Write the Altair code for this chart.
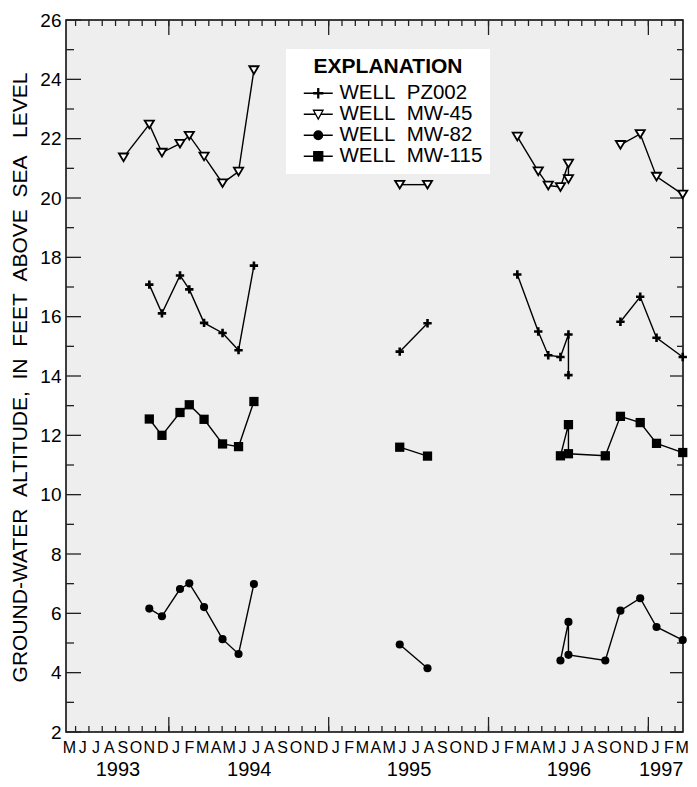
import calendar
import altair as alt
import pandas as pd

wells = ["PZ002", "MW-45", "MW-82", "MW-115"]

# ---- data ----
pz_dates = ["1993-11-17", "1993-12-16", "1994-01-27", "1994-02-16", "1994-03-21", "1994-05-02", "1994-06-08", "1994-07-13",
            "1995-06-11", "1995-08-14",
            "1996-03-06", "1996-04-23", "1996-05-16", "1996-06-13", "1996-07-01", "1996-07-01",
            "1996-10-29", "1996-12-13", "1997-01-20", "1997-03-19"]
pz_vals = [17.08, 16.11, 17.39, 16.92, 15.79, 15.45, 14.87, 17.72,
           14.82, 15.78,
           17.42, 15.50, 14.70, 14.64, 15.40, 14.03,
           15.83, 16.67, 15.29, 14.64]
pz_seg = [1] * 8 + [2] * 2 + [3] * 6 + [4] * 4

mw45_dates = ["1993-09-19", "1993-11-17", "1993-12-16", "1994-01-27", "1994-02-16", "1994-03-21", "1994-05-02", "1994-06-08", "1994-07-13",
              "1995-06-11", "1995-08-14",
              "1996-03-06", "1996-04-23", "1996-05-16", "1996-06-13", "1996-07-01", "1996-07-01",
              "1996-10-29", "1996-12-13", "1997-01-20", "1997-03-19"]
mw45_vals = [21.37, 22.48, 21.53, 21.83, 22.10, 21.40, 20.50, 20.89, 24.31,
             20.45, 20.45,
             22.07, 20.90, 20.42, 20.37, 21.16, 20.64,
             21.79, 22.16, 20.72, 20.12]
mw45_seg = [1] * 9 + [2] * 2 + [3] * 6 + [4] * 4

mw82_dates = ["1993-11-17", "1993-12-16", "1994-01-27", "1994-02-16", "1994-03-21", "1994-05-02", "1994-06-08", "1994-07-13",
              "1995-06-11", "1995-08-14",
              "1996-06-13", "1996-07-01", "1996-07-01", "1996-09-24", "1996-10-29", "1996-12-13", "1997-01-20", "1997-03-19"]
mw82_vals = [6.16, 5.90, 6.82, 7.01, 6.21, 5.13, 4.63, 6.99,
             4.95, 4.15,
             4.41, 5.71, 4.60, 4.41, 6.09, 6.51, 5.54, 5.10]
mw82_seg = [1] * 8 + [2] * 2 + [3] * 8

mw115_dates = mw82_dates
mw115_vals = [12.55, 12.00, 12.77, 13.03, 12.54, 11.71, 11.62, 13.14,
              11.60, 11.30,
              11.31, 12.36, 11.38, 11.31, 12.64, 12.43, 11.73, 11.42]
mw115_seg = mw82_seg

month_letters = "JFMAMJJASOND"
x_domain = [4.28, 50.6]      # months since Jan 1993 (mid-May 1993 .. mid-March 1997)
y_domain = [2, 26]
y_title = "\u00a0\u00a0".join(["GROUND-WATER", "ALTITUDE,", "IN", "FEET", "ABOVE", "SEA"]) + "\u00a0\u00a0\u00a0LEVEL"

month_bounds = list(range(5, 51))      # tick at start of each month
year_bounds = [12, 24, 36, 48]         # tick at start of each year
y_major = list(range(2, 27, 2))
y_minor = list(range(3, 26, 2))


def month_index(s):
    y, mo, d = (int(v) for v in s.split("-"))
    return (y - 1993) * 12 + (mo - 1) + (d - 1) / calendar.monthrange(y, mo)[1]


rows = []
for well, dates, vals, segs in [("PZ002", pz_dates, pz_vals, pz_seg),
                                ("MW-45", mw45_dates, mw45_vals, mw45_seg),
                                ("MW-82", mw82_dates, mw82_vals, mw82_seg),
                                ("MW-115", mw115_dates, mw115_vals, mw115_seg)]:
    for i, (dt, v, sg) in enumerate(zip(dates, vals, segs)):
        rows.append({"well": well, "m": month_index(dt), "value": v,
                     "grp": f"{well}-{sg}", "idx": i})
df = pd.DataFrame(rows)

W, H = 617, 712
FONT = "Liberation Sans"
TICK = dict(stroke="#222222", strokeWidth=1.3, opacity=1)

xscale = alt.Scale(domain=x_domain, nice=False, zero=False)
yscale = alt.Scale(domain=y_domain, nice=False, zero=False)

month_centers = [m + 0.5 for m in range(4, 51)]
year_centers = []
for k in range(0, 5):
    lo, hi = max(12 * k, x_domain[0]), min(12 * (k + 1), x_domain[1])
    year_centers.append((lo + hi) / 2)
year_centers[-1] = x_domain[1]   # last (partial) year label flush with the right edge

common = dict(grid=False, domain=False, title=None)

ax_month_labels = alt.Axis(orient="bottom", values=month_centers, ticks=False, tickSize=0,
                           labelExpr=f"substring('{month_letters}', floor(datum.value) % 12, floor(datum.value) % 12 + 1)",
                           labelFontSize=16, labelPadding=7, labelOverlap=False, labelFlush=False, **common)
ax_year_labels = alt.Axis(orient="bottom", values=year_centers, ticks=False, tickSize=0,
                          labelExpr="floor(datum.value / 12) + 1993",
                          labelFontSize=20, labelPadding=27, labelOverlap=False, labelFlush=8, **common)
ax_left_labels = alt.Axis(orient="left", values=y_major, ticks=False, tickSize=0, grid=False, domain=False,
                          labelFontSize=19, labelPadding=5, title=y_title, titleFontSize=21,
                          titleFontWeight="normal", titleX=-45.5, titleY=357, titleAngle=-90,
                          titleAlign="center", titleBaseline="middle")


def X(axis=None):
    return alt.X("m:Q", scale=xscale, axis=axis)


def Y(axis=None):
    return alt.Y("value:Q", scale=yscale, axis=axis)


# ---- inward tick marks on all four sides (positions through the scales) ----
xt_month = alt.Chart(pd.DataFrame({"m": month_bounds}))
xt_year = alt.Chart(pd.DataFrame({"m": year_bounds}))
yt_major = alt.Chart(pd.DataFrame({"value": y_major}))
yt_minor = alt.Chart(pd.DataFrame({"value": y_minor}))

tick_layers = [
    xt_month.mark_rule(**TICK).encode(x=X(), y=alt.value(H), y2=alt.value(H - 6)),
    xt_year.mark_rule(**TICK).encode(x=X(), y=alt.value(H), y2=alt.value(H - 15)),
    xt_month.mark_rule(**TICK).encode(x=X(), y=alt.value(0), y2=alt.value(6)),
    xt_year.mark_rule(**TICK).encode(x=X(), y=alt.value(0), y2=alt.value(15)),
    yt_major.mark_rule(**TICK).encode(y=Y(), x=alt.value(0), x2=alt.value(15)),
    yt_minor.mark_rule(**TICK).encode(y=Y(), x=alt.value(0), x2=alt.value(8)),
    yt_major.mark_rule(**TICK).encode(y=Y(), x=alt.value(W), x2=alt.value(W - 13)),
    yt_minor.mark_rule(**TICK).encode(y=Y(), x=alt.value(W), x2=alt.value(W - 6)),
]

base = alt.Chart(df)

lines = base.mark_line(color="black", strokeWidth=1.4).encode(
    x=X(ax_month_labels), y=Y(ax_left_labels), detail="grp:N", order="idx:Q")

pts_pz = base.transform_filter(alt.datum.well == "PZ002").mark_point(
    shape="M-1,0H1M0,-1V1", filled=False, stroke="black", strokeWidth=2.6, size=70, opacity=1
).encode(x=X(), y=Y())

pts_45 = base.transform_filter(alt.datum.well == "MW-45").mark_point(
    shape="M-1,-0.84L1,-0.84L0,0.84Z", filled=True, fill="white", stroke="black", strokeWidth=1.8,
    size=85, opacity=1
).encode(x=X(), y=Y())

pts_82 = base.transform_filter(alt.datum.well == "MW-82").mark_point(
    shape="circle", filled=True, fill="black", strokeWidth=0, size=66, opacity=1
).encode(x=X(), y=Y())

pts_115 = base.transform_filter(alt.datum.well == "MW-115").mark_point(
    shape="square", filled=True, fill="black", strokeWidth=0, size=86, opacity=1
).encode(x=X(), y=Y())

# legend symbols: a short line through each marker
legend_paths = [
    "M-1.81,0H1.81M-0.56,-0.06H-0.06V-0.56H0.06V-0.06H0.56V0.06H0.06V0.56H-0.06V0.06H-0.56Z",
    "M-1.81,0H-0.33M0.33,0H1.81M-0.6,-0.5L0.6,-0.5L0,0.6Z",
    "M-1.81,0H1.81M0.54,0A0.54,0.54,0,1,1,-0.54,0A0.54,0.54,0,1,1,0.54,0Z",
    "M-1.81,0H1.81M-0.56,-0.56H0.56V0.56H-0.56Z",
]
legend_fills = ["black", "white", "black", "black"]
legend_strokes = ["black", "black", "black", "black"]

leg = alt.Legend(title="EXPLANATION", orient="none", legendX=220, legendY=29, fillColor="white",
                 padding=7, titleFontSize=21, titleFontWeight="bold", titleAnchor="middle",
                 titleColor="black", titlePadding=6, labelFontSize=20.5, labelColor="black",
                 labelExpr="'WELL\u00a0\u00a0' + datum.label + '\u00a0\u00a0'", labelOffset=11, labelLimit=300,
                 symbolSize=256, symbolOffset=15, symbolStrokeWidth=1.3,
                 symbolOpacity=1, rowPadding=0)

legend_layer = base.transform_filter("false").mark_point(
    filled=False, strokeWidth=1.3, opacity=1
).encode(
    x=X(ax_year_labels),
    y=Y(),
    shape=alt.Shape("well:N", scale=alt.Scale(domain=wells, range=legend_paths), legend=leg),
    fill=alt.Fill("well:N", scale=alt.Scale(domain=wells, range=legend_fills), legend=leg),
    stroke=alt.Stroke("well:N", scale=alt.Scale(domain=wells, range=legend_strokes), legend=leg),
)

chart = alt.layer(*tick_layers, lines, pts_pz, pts_45, pts_82, pts_115, legend_layer).resolve_axis(
    x="independent", y="independent"
).properties(
    width=W, height=H,
    autosize=alt.AutoSizeParams(type="none"),
    padding={"left": 58, "top": 12, "right": 6, "bottom": 47},
).configure(font=FONT).configure_view(
    fill="#eeeeee", stroke="black", strokeWidth=1.5
).configure_axis(
    labelFont=FONT, titleFont=FONT, labelColor="black", titleColor="black"
).configure_legend(labelFont=FONT, titleFont=FONT)

chart.save("out.html", embed_options={"renderer": "svg", "actions": False})
